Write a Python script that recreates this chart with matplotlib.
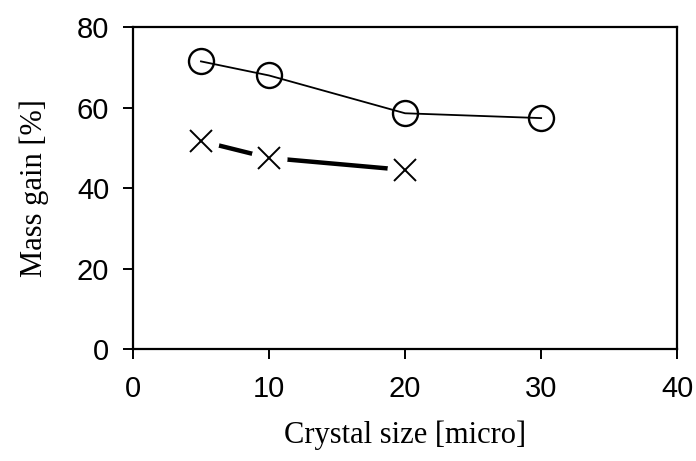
import matplotlib.pyplot as plt

# data
crystal_size_o = [5, 10, 20, 30]
mass_gain_o = [71.5, 68, 58.6, 57.4]
crystal_size_x = [5, 10, 20]
mass_gain_x = [51.7, 47.5, 44.5]

x_ticks = [0, 10, 20, 30, 40]
y_ticks = [0, 20, 40, 60, 80]

fig = plt.figure(figsize=(6.96, 4.61), dpi=100)
ax = fig.add_axes([0.191, 0.243, 0.782, 0.698])

# circle series: thin line through open circles
ax.plot(crystal_size_o, mass_gain_o, color="black", lw=1.3, zorder=2)
ax.plot(crystal_size_o, mass_gain_o, ls="none", marker="o", ms=18,
        mfc="none", mec="black", mew=1.7, zorder=3)

# cross series: thick line that stops short of the markers
ax.plot(crystal_size_x, mass_gain_x, color="black", lw=3.2, zorder=2)
ax.plot(crystal_size_x, mass_gain_x, ls="none", marker="o", ms=26,
        mfc="white", mec="none", zorder=3)
ax.plot(crystal_size_x, mass_gain_x, ls="none", marker="x", ms=16,
        mec="black", mew=1.4, zorder=4)

ax.set_xlim(0, 40)
ax.set_ylim(0, 80)
ax.set_xticks(x_ticks)
ax.set_yticks(y_ticks)

for s in ax.spines.values():
    s.set_linewidth(1.6)

ax.tick_params(direction="out", length=7, width=1.4, labelsize=21)
ax.tick_params(axis="x", pad=12)
ax.tick_params(axis="y", pad=10)
for lab in ax.get_xticklabels() + ax.get_yticklabels():
    lab.set_family("Liberation Sans")

ax.set_xlabel("Crystal size [micro]", fontsize=22, family="Liberation Serif",
              labelpad=12)
ax.set_ylabel("Mass gain [%]", fontsize=22, family="Liberation Serif",
              labelpad=20)

fig.savefig("out.png", dpi=100)
